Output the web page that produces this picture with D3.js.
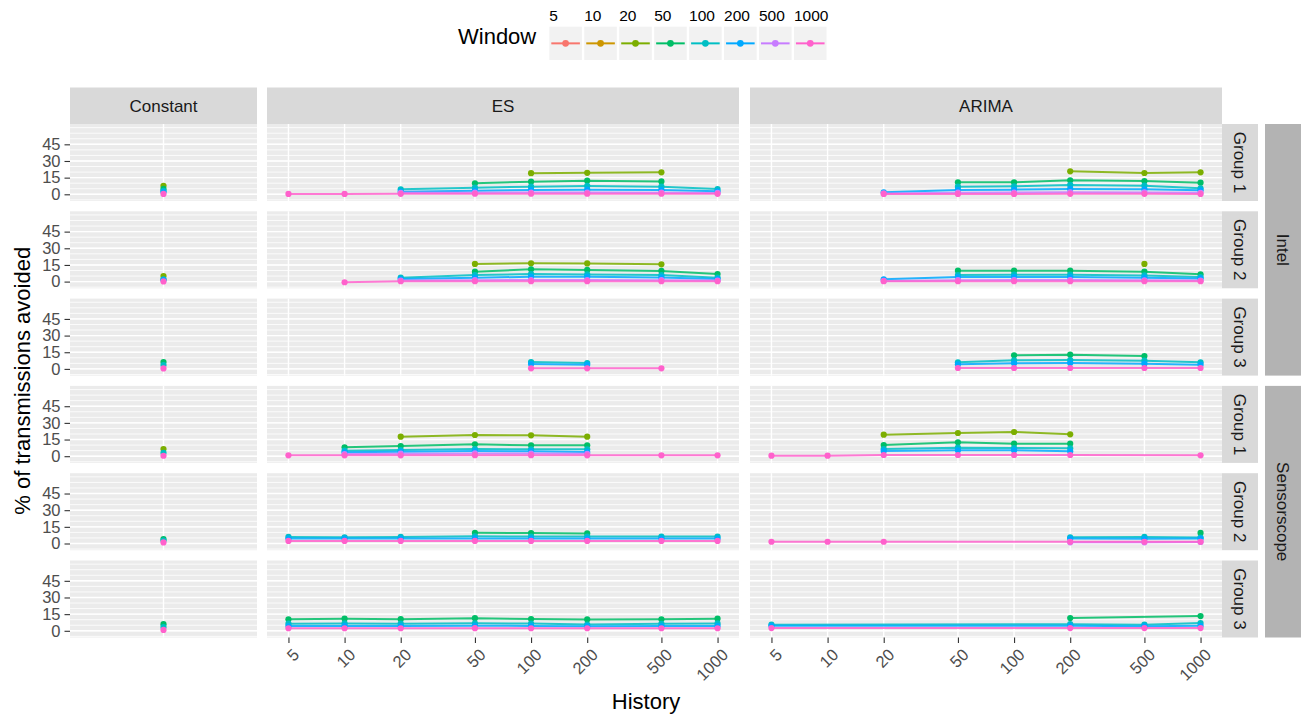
<!DOCTYPE html>
<html><head><meta charset="utf-8">
<script src="https://cdn.jsdelivr.net/npm/d3@7"></script>
<style>body{margin:0;background:#fff} text{font-family:"Liberation Sans",Arial,Helvetica,sans-serif}</style>
</head><body><svg id="c" width="1301" height="716"></svg>
<script>
// ---------------- data ----------------
const windows = [5, 10, 20, 50, 100, 200, 500, 1000];
const windowColors = ["#F8766D", "#CD9600", "#7CAE00", "#00BE67", "#00BFC4", "#00A9FF", "#C77CFF", "#FF61CC"];
const historyTicks = [5, 10, 20, 50, 100, 200, 500, 1000];
const yTicks = [0, 15, 30, 45];
const methods = ["Constant", "ES", "ARIMA"];
const datasets = ["Intel", "Sensorscope"];
const groups = ["Group 1", "Group 2", "Group 3"];

// Constant method: one value per window
const constIntelG1 = {20: 7.7, 50: 4.8, 100: 3.0, 200: 2.0, 1000: 0.3};
const constIntelG2 = {20: 5.0, 100: 2.0, 200: 1.5, 1000: 0.2};
const constIntelG3 = {50: 6.2, 100: 3.5, 1000: 0.4};
const constSensG1 = {20: 6.5, 100: 3.0, 1000: 0.4};
const constSensG2 = {50: 4.0, 100: 2.7, 1000: 1.0};
const constSensG3 = {50: 6.0, 100: 3.4, 1000: 0.8};

// ES / ARIMA: window -> [history, % avoided]
const esIntelG1 = {
  20: [[100,19.0],[200,19.3],[500,19.8]],
  50: [[50,9.9],[100,11.4],[200,12.3],[500,11.6]],
  100: [[20,4.5],[50,6.0],[100,6.9],[200,7.5],[500,6.9],[1000,4.7]],
  200: [[20,2.4],[50,3.3],[100,3.9],[200,4.2],[500,3.9],[1000,2.7]],
  500: [[20,1.3],[50,1.5],[100,1.6],[200,1.6],[500,1.5],[1000,1.2]],
  1000: [[5,0.3],[10,0.3],[20,0.4],[50,0.5],[100,0.6],[200,0.6],[500,0.6],[1000,0.4]]
};
const esIntelG2 = {
  20: [[50,15.9],[100,16.5],[200,16.4],[500,15.6]],
  50: [[50,8.9],[100,11.1],[200,10.5],[500,9.6],[1000,6.8]],
  100: [[20,3.5],[50,5.9],[100,6.8],[200,6.5],[500,5.9],[1000,3.5]],
  200: [[20,2.3],[50,3.5],[100,4.4],[200,4.4],[500,3.8],[1000,2.3]],
  500: [[20,1.0],[50,1.3],[100,1.4],[200,1.4],[500,1.3],[1000,1.0]],
  1000: [[10,-0.6],[20,0.3],[50,0.3],[100,0.4],[200,0.4],[500,0.3],[1000,0.3]]
};
const esIntelG3 = {
  100: [[100,6.2],[200,5.3]],
  200: [[100,4.4],[200,3.8]],
  1000: [[100,0.5],[200,0.5],[500,0.5]]
};
const esSensG1 = {
  20: [[20,17.6],[50,19.1],[100,18.8],[200,17.6]],
  50: [[10,8.0],[20,9.2],[50,10.7],[100,9.8],[200,9.8]],
  100: [[10,5.0],[20,5.6],[50,6.5],[100,6.2],[200,6.2]],
  200: [[10,3.5],[20,4.1],[50,4.7],[100,4.4],[200,3.8]],
  500: [[10,2.0],[20,2.3],[50,2.5],[100,2.4],[200,2.2]],
  1000: [[5,0.8],[10,0.8],[20,0.8],[50,0.9],[100,0.9],[200,0.8],[500,0.8],[1000,0.8]]
};
const esSensG2 = {
  50: [[50,9.7],[100,9.4],[200,9.1]],
  100: [[5,5.9],[10,5.6],[20,5.9],[50,6.5],[100,6.2],[200,6.2],[500,6.2],[1000,6.2]],
  200: [[5,4.4],[10,4.4],[20,4.4],[50,4.6],[100,4.5],[200,4.4],[500,4.4],[1000,4.4]],
  1000: [[5,2.3],[10,2.3],[20,2.3],[50,2.3],[100,2.3],[200,2.3],[500,2.3],[1000,2.3]]
};
const esSensG3 = {
  50: [[5,10.3],[10,10.9],[20,10.5],[50,11.4],[100,10.6],[200,10.2],[500,10.4],[1000,10.9]],
  100: [[5,6.4],[10,6.6],[20,6.4],[50,6.8],[100,6.5],[200,5.6],[500,6.3],[1000,6.6]],
  200: [[5,4.3],[10,4.4],[20,4.3],[50,4.5],[100,4.4],[200,4.2],[500,4.3],[1000,4.4]],
  1000: [[5,2.3],[10,2.3],[20,2.3],[50,2.4],[100,2.3],[200,2.3],[500,2.3],[1000,2.3]]
};
const arimaIntelG1 = {
  20: [[200,20.7],[500,19.2],[1000,19.8]],
  50: [[50,10.8],[100,10.8],[200,12.6],[500,12.0],[1000,10.5]],
  100: [[50,6.9],[100,7.2],[200,8.4],[500,7.8],[1000,5.4]],
  200: [[20,1.8],[50,3.9],[100,4.2],[200,4.8],[500,4.5],[1000,3.6]],
  500: [[20,0.8],[50,1.5],[100,1.6],[200,1.8],[500,1.7],[1000,1.4]],
  1000: [[20,0.3],[50,0.3],[100,0.3],[200,0.4],[500,0.4],[1000,0.3]]
};
const arimaIntelG2 = {
  20: [[500,15.9]],
  50: [[50,9.8],[100,9.8],[200,9.8],[500,8.9],[1000,6.6]],
  100: [[50,5.9],[100,6.2],[200,6.2],[500,5.6],[1000,4.1]],
  200: [[20,2.1],[50,4.1],[100,4.1],[200,4.1],[500,3.5],[1000,2.9]],
  500: [[20,0.6],[50,1.3],[100,1.4],[200,1.4],[500,1.2],[1000,1.0]],
  1000: [[20,0.3],[50,0.3],[100,0.3],[200,0.3],[500,0.3],[1000,0.3]]
};
const arimaIntelG3 = {
  50: [[100,12.2],[200,12.8],[500,11.6]],
  100: [[50,5.9],[100,7.7],[200,8.0],[500,7.4],[1000,5.9]],
  200: [[50,4.1],[100,5.0],[200,5.3],[500,4.7],[1000,3.8]],
  1000: [[50,0.8],[100,0.8],[200,0.8],[500,0.8],[1000,0.8]]
};
const arimaSensG1 = {
  20: [[20,19.4],[50,20.9],[100,21.8],[200,19.7]],
  50: [[20,10.1],[50,12.5],[100,11.3],[200,11.3]],
  100: [[20,6.5],[50,7.7],[100,7.4],[200,7.1]],
  200: [[20,4.7],[50,5.3],[100,5.3],[200,4.4]],
  1000: [[5,0.5],[10,0.5],[20,1.1],[50,1.1],[100,1.1],[200,1.1],[1000,0.8]]
};
const arimaSensG2 = {
  50: [[1000,9.5]],
  100: [[200,5.6],[500,5.9],[1000,5.3]],
  200: [[200,4.4],[500,4.2],[1000,4.4]],
  500: [[200,1.1],[500,1.1],[1000,1.4]],
  1000: [[5,1.6],[10,1.6],[20,1.6],[200,1.6],[500,1.6],[1000,1.6]]
};
const arimaSensG3 = {
  50: [[200,11.5],[1000,13.3]],
  100: [[5,5.5],[200,6.0],[500,5.5],[1000,7.0]],
  200: [[5,4.5],[200,4.5],[500,4.2],[1000,4.5]],
  1000: [[5,2.5],[200,2.5],[500,2.5],[1000,2.5]]
};

const panelData = {
  "Constant|Intel|Group 1": constIntelG1, "Constant|Intel|Group 2": constIntelG2, "Constant|Intel|Group 3": constIntelG3,
  "Constant|Sensorscope|Group 1": constSensG1, "Constant|Sensorscope|Group 2": constSensG2, "Constant|Sensorscope|Group 3": constSensG3,
  "ES|Intel|Group 1": esIntelG1, "ES|Intel|Group 2": esIntelG2, "ES|Intel|Group 3": esIntelG3,
  "ES|Sensorscope|Group 1": esSensG1, "ES|Sensorscope|Group 2": esSensG2, "ES|Sensorscope|Group 3": esSensG3,
  "ARIMA|Intel|Group 1": arimaIntelG1, "ARIMA|Intel|Group 2": arimaIntelG2, "ARIMA|Intel|Group 3": arimaIntelG3,
  "ARIMA|Sensorscope|Group 1": arimaSensG1, "ARIMA|Sensorscope|Group 2": arimaSensG2, "ARIMA|Sensorscope|Group 3": arimaSensG3
};

// ---------------- layout ----------------
const L = {colX: [70, 267, 750], colW: [187, 472, 472], top: 124, pitch: 87.3, panelH: 77, stripH: 36.5,
           rStripX: 1222, rStripW: 36, oStripX: 1265, oStripW: 36};
const svg = d3.select("#c");
const color = d3.scaleOrdinal().domain(windows).range(windowColors);
const y = d3.scaleLinear().domain([-6.03, 63.3]).range([L.panelH, 0]);
const xLog = d3.scaleLog().domain([5, 1000]).range([21.45, 472 - 21.45]);
const xConst = d3.scalePoint().domain(["Constant"]).range([0, L.colW[0]]).padding(0.5);
const yMinor = d3.range(-5, 65, 5).filter(v => v > y.domain()[0] && v < y.domain()[1]);

const rows = [];
datasets.forEach(ds => groups.forEach(g => rows.push([ds, g])));

const FS = 16.5;

// top strips
methods.forEach((m, c) => {
  const g = svg.append("g").attr("transform", `translate(${L.colX[c]},${L.top - L.stripH})`);
  g.append("rect").attr("width", L.colW[c]).attr("height", L.stripH).attr("fill", "#D9D9D9");
  g.append("text").attr("x", L.colW[c] / 2).attr("y", L.stripH / 2).attr("dy", "0.35em")
    .attr("text-anchor", "middle").attr("font-size", 17).attr("fill", "#1A1A1A").text(m);
});

rows.forEach(([ds, grp], r) => {
  const ty = L.top + r * L.pitch;
  methods.forEach((m, c) => {
    const g = svg.append("g").attr("transform", `translate(${L.colX[c]},${ty})`);
    g.append("rect").attr("width", L.colW[c]).attr("height", L.panelH).attr("fill", "#EBEBEB");
    g.selectAll(".mn").data(yMinor).join("line")
      .attr("x1", 0).attr("x2", L.colW[c]).attr("y1", d => y(d)).attr("y2", d => y(d))
      .attr("stroke", "#fff").attr("stroke-width", 0.8);
    g.selectAll(".mj").data(yTicks).join("line")
      .attr("x1", 0).attr("x2", L.colW[c]).attr("y1", d => y(d)).attr("y2", d => y(d))
      .attr("stroke", "#fff").attr("stroke-width", 1.4);
    const data = panelData[`${m}|${ds}|${grp}`];
    if (c === 0) {
      g.append("line").attr("x1", xConst("Constant")).attr("x2", xConst("Constant"))
        .attr("y1", 0).attr("y2", L.panelH).attr("stroke", "#fff").attr("stroke-width", 1.4);
      const pts = windows.filter(w => data[w] !== undefined).map(w => ({w, v: data[w]}));
      g.selectAll(".pt").data(pts).join("circle")
        .attr("cx", xConst("Constant")).attr("cy", d => y(d.v)).attr("r", 3.1)
        .attr("fill", d => color(d.w));
    } else {
      g.selectAll(".vg").data(historyTicks).join("line")
        .attr("x1", d => xLog(d)).attr("x2", d => xLog(d)).attr("y1", 0).attr("y2", L.panelH)
        .attr("stroke", "#fff").attr("stroke-width", 1.4);
      const series = windows.filter(w => data[w]).map(w => ({w, pts: data[w]}));
      const line = d3.line().x(d => xLog(d[0])).y(d => y(d[1]));
      g.selectAll(".ln").data(series).join("path")
        .attr("d", d => line(d.pts)).attr("fill", "none").attr("stroke", d => color(d.w))
        .attr("stroke-width", 2).attr("stroke-opacity", 0.85);
      series.forEach(s => {
        g.selectAll(null).data(s.pts).join("circle")
          .attr("cx", d => xLog(d[0])).attr("cy", d => y(d[1])).attr("r", 3.1)
          .attr("fill", color(s.w));
      });
    }
  });
  // y axis
  const ax = svg.append("g").attr("transform", `translate(${L.colX[0]},${ty})`)
    .call(d3.axisLeft(y).tickValues(yTicks).tickSize(5.5).tickPadding(4));
  ax.select(".domain").remove();
  ax.selectAll(".tick line").attr("stroke", "#333").attr("stroke-width", 1.1);
  ax.selectAll(".tick text").attr("font-size", FS).attr("fill", "#4D4D4D").attr("font-family", null);
  // right group strip
  const sg = svg.append("g").attr("transform", `translate(${L.rStripX},${ty})`);
  sg.append("rect").attr("width", L.rStripW).attr("height", L.panelH).attr("fill", "#D9D9D9");
  sg.append("text").attr("transform", `translate(${L.rStripW / 2},${L.panelH / 2}) rotate(90)`)
    .attr("dy", "0.35em").attr("text-anchor", "middle").attr("font-size", 17).attr("fill", "#1A1A1A").text(grp);
});

// outer strips
datasets.forEach((ds, i) => {
  const t = L.top + i * 3 * L.pitch;
  const h = 2 * L.pitch + L.panelH;
  const g = svg.append("g").attr("transform", `translate(${L.oStripX},${t})`);
  g.append("rect").attr("width", L.oStripW).attr("height", h).attr("fill", "#B3B3B3");
  g.append("text").attr("transform", `translate(${L.oStripW / 2},${h / 2}) rotate(90)`)
    .attr("dy", "0.35em").attr("text-anchor", "middle").attr("font-size", 17).attr("fill", "#1A1A1A").text(ds);
});

// x axes
const bottom = L.top + 5 * L.pitch + L.panelH;
[1, 2].forEach(c => {
  const ax = svg.append("g").attr("transform", `translate(${L.colX[c]},${bottom})`)
    .call(d3.axisBottom(xLog).tickValues(historyTicks).tickFormat(d3.format("d")).tickSize(5.5));
  ax.select(".domain").remove();
  ax.selectAll(".tick line").attr("stroke", "#333").attr("stroke-width", 1.1);
  ax.selectAll(".tick text").attr("font-size", FS).attr("fill", "#4D4D4D").attr("font-family", null)
    .attr("text-anchor", "end").attr("y", 0).attr("dy", "0.71em")
    .attr("transform", "translate(3,10) rotate(-45)");
});

// axis titles
svg.append("text").attr("x", (L.colX[0] + L.rStripX) / 2).attr("y", 709).attr("text-anchor", "middle")
  .attr("font-size", 22).attr("fill", "#000").text("History");
svg.append("text").attr("transform", `translate(22,${(L.top + bottom) / 2}) rotate(-90)`)
  .attr("dy", "0.35em").attr("text-anchor", "middle").attr("font-size", 22).attr("fill", "#000")
  .text("% of transmissions avoided");

// legend
const leg = svg.append("g");
leg.append("text").attr("x", 458).attr("y", 44).attr("font-size", 22).attr("fill", "#000").text("Window");
const keyW = 32.6, keyH = 33.3, keyPitch = 34.95, keyX = 549.3, keyY = 26.7;
const kg = leg.selectAll(".key").data(windows).join("g")
  .attr("transform", (d, i) => `translate(${keyX + i * keyPitch},${keyY})`);
kg.append("rect").attr("width", keyW).attr("height", keyH).attr("fill", "#F2F2F2");
kg.append("line").attr("x1", 2).attr("x2", keyW - 2).attr("y1", keyH / 2).attr("y2", keyH / 2)
  .attr("stroke", d => color(d)).attr("stroke-width", 2);
kg.append("circle").attr("cx", keyW / 2).attr("cy", keyH / 2).attr("r", 3.4).attr("fill", d => color(d));
kg.append("text").attr("x", 0).attr("y", -6).attr("font-size", 15.5).attr("fill", "#000").text(d => d);
</script></body></html>
